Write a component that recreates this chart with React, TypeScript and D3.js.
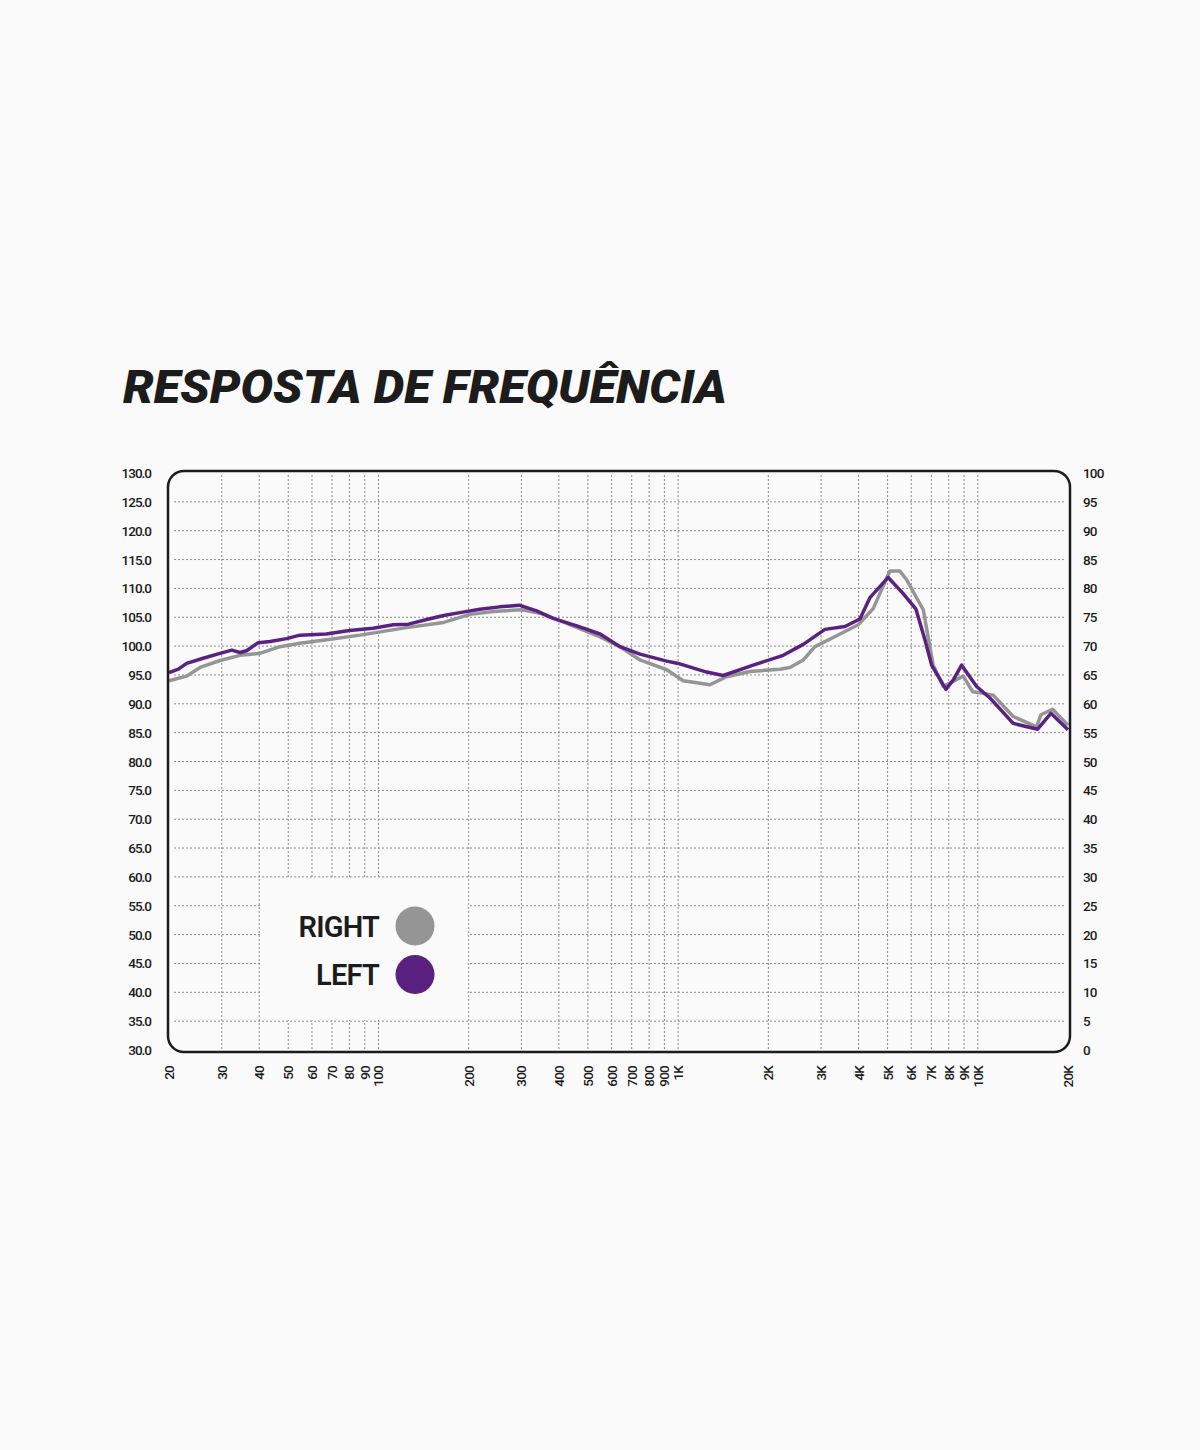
import React from "react";
import * as d3 from "d3";

// frequency response (Hz, dB)
const rightCurve: [number, number][] = [
  [20, 94.0], [22.9, 94.8], [25.4, 96.3], [29.6, 97.5], [34.5, 98.4], [40.2, 98.75],
  [46.9, 99.9], [54.7, 100.5], [67.2, 101.1], [86.8, 101.9], [124, 103.2], [165, 104.1],
  [202, 105.5], [242, 106.0], [301, 106.3], [346, 105.7], [403, 104.4], [549, 101.6],
  [640, 99.9], [746, 97.6], [916, 95.9], [1040, 94.0], [1277, 93.3], [1452, 94.7],
  [1736, 95.6], [2187, 96.0], [2361, 96.3], [2616, 97.6], [2862, 99.9], [3293, 101.5],
  [3990, 103.7], [4477, 106.5], [4738, 109.4], [5090, 113.0], [5497, 113.0], [5788, 111.5],
  [6576, 106.3], [7098, 96.7], [7666, 93.0], [8940, 94.8], [9612, 92.1], [10164, 91.9],
  [11256, 91.5], [13128, 87.8], [15710, 86.0], [16240, 88.1], [17768, 89.05], [20000, 86.3],
];

const leftCurve: [number, number][] = [
  [20, 95.4], [21.5, 96.0], [22.9, 97.0], [26, 97.9], [29.6, 98.75], [32.4, 99.3],
  [34.5, 98.9], [36.3, 99.2], [39.7, 100.6], [43.5, 100.8], [49.4, 101.3], [54.7, 101.9],
  [67, 102.1], [80, 102.7], [96, 103.1], [112, 103.7], [126, 103.8], [145, 104.6],
  [165, 105.3], [187, 105.8], [218, 106.4], [254, 106.8], [295, 107.1], [337, 106.1],
  [383, 104.8], [459, 103.5], [549, 102.1], [640, 99.9], [746, 98.6], [916, 97.4],
  [1000, 97.0], [1245, 95.5], [1414, 94.9], [1781, 96.7], [2242, 98.4], [2616, 100.3],
  [3090, 102.9], [3602, 103.4], [4042, 104.7], [4366, 108.4], [5024, 111.9], [5638, 109.1],
  [6218, 106.4], [6662, 101.1], [7014, 96.7], [7828, 92.5], [8278, 94.1], [8832, 96.7],
  [9910, 93.0], [10978, 91.0], [13128, 86.6], [15834, 85.6], [17536, 88.35], [20000, 85.5],
];

const freqTicks = [
  20, 30, 40, 50, 60, 70, 80, 90, 100, 200, 300, 400, 500, 600, 700, 800, 900,
  1000, 2000, 3000, 4000, 5000, 6000, 7000, 8000, 9000, 10000, 20000,
];
const dbTicks = d3.range(30, 131, 5);
const rightTicks = d3.range(0, 101, 5);

const series = [
  { name: "RIGHT", data: rightCurve, color: "#959595" },
  { name: "LEFT", data: leftCurve, color: "#5a2181" },
];

const W = 1200;
const H = 1450;
const BG = "#fafafa";
const INK = "#1c1c1c";
const tickFont = "Roboto, 'Noto Sans', sans-serif";

const App = () => {
  const x = d3.scaleLog().domain([20, 20000]).range([169, 1068]);
  const y = d3.scaleLinear().domain([30, 130]).range([1050, 473]);
  const yR = d3.scaleLinear().domain([0, 100]).range([1050, 473]);

  const line = d3
    .line<[number, number]>()
    .x((d) => x(d[0]))
    .y((d) => y(d[1]));

  const fmtFreq = (f: number) => (f >= 1000 ? `${f / 1000}K` : `${f}`);

  // frame bounds
  const fx0 = x(20) - 1;
  const fx1 = x(20000) + 2;
  const fy0 = y(130) - 2;
  const fy1 = y(30) + 2;

  return (
    <div style={{ position: "absolute", left: 0, top: 0 }}>
      <svg width={W} height={H} style={{ display: "block", background: BG }}>
        <rect width={W} height={H} fill={BG} />

        {/* title */}
        <text
          x={123}
          y={403}
          fontFamily="Roboto, sans-serif"
          fontWeight={900}
          fontStyle="italic"
          fontSize={46}
          fill={INK}
          textLength={604}
          lengthAdjust="spacingAndGlyphs"
        >
          RESPOSTA DE FREQUÊNCIA
        </text>

        {/* horizontal grid */}
        {dbTicks
          .filter((t) => t > 30 && t < 130)
          .map((t) => (
            <line
              key={`h${t}`}
              x1={fx0 + 6}
              x2={fx1 - 6}
              y1={y(t)}
              y2={y(t)}
              stroke="#8a8a8a"
              strokeWidth={1}
              strokeDasharray="2,2"
            />
          ))}

        {/* vertical grid */}
        {freqTicks
          .filter((f) => f > 20 && f < 20000)
          .map((f) => (
            <line
              key={`v${f}`}
              x1={x(f)}
              x2={x(f)}
              y1={fy0 + 4}
              y2={fy1}
              stroke="#8a8a8a"
              strokeWidth={1}
              strokeDasharray="2,2"
            />
          ))}

        {/* legend panel masks the grid between 40-200 Hz and 35-60 dB */}
        <rect
          x={x(40) + 1}
          y={y(60) + 1}
          width={x(200) - x(40) - 2}
          height={y(35) - y(60) - 2}
          fill={BG}
        />

        {/* curves */}
        {series.map((s) => (
          <path
            key={s.name}
            d={line(s.data) || ""}
            fill="none"
            stroke={s.color}
            strokeWidth={3.5}
            strokeLinejoin="round"
          />
        ))}

        {/* frame */}
        <rect
          x={fx0}
          y={fy0}
          width={fx1 - fx0}
          height={fy1 - fy0}
          rx={16}
          fill="none"
          stroke={INK}
          strokeWidth={2.5}
        />

        {/* left axis */}
        {dbTicks.map((t) => (
          <text
            key={`l${t}`}
            x={151}
            y={y(t) + 5}
            textAnchor="end"
            fontFamily={tickFont}
            fontWeight={500}
            fontSize={13.5}
            letterSpacing={-1}
            fill={INK}
          >
            {t.toFixed(1)}
          </text>
        ))}

        {/* right axis */}
        {rightTicks.map((t) => (
          <text
            key={`r${t}`}
            x={1083}
            y={yR(t) + 5}
            fontFamily={tickFont}
            fontWeight={500}
            fontSize={13.5}
            letterSpacing={-0.8}
            fill={INK}
          >
            {t}
          </text>
        ))}

        {/* frequency labels */}
        {freqTicks.map((f) => (
          <text
            key={`f${f}`}
            transform={`translate(${x(f)},1066) rotate(-90)`}
            textAnchor="end"
            dominantBaseline="central"
            fontFamily={tickFont}
            fontWeight={500}
            fontSize={13.5}
            letterSpacing={-0.8}
            fill={INK}
          >
            {fmtFreq(f)}
          </text>
        ))}

        {/* legend */}
        {series.map((s, i) => (
          <g key={`lg${s.name}`} transform={`translate(0,${926 + i * 48.5})`}>
            <text
              x={379}
              y={10.5}
              textAnchor="end"
              fontFamily="Roboto, sans-serif"
              fontWeight={600}
              fontSize={29}
              letterSpacing={-0.8}
              fill={INK}
            >
              {s.name}
            </text>
            <circle cx={415} cy={0} r={19.5} fill={s.color} />
          </g>
        ))}
      </svg>
    </div>
  );
};

export default App;
